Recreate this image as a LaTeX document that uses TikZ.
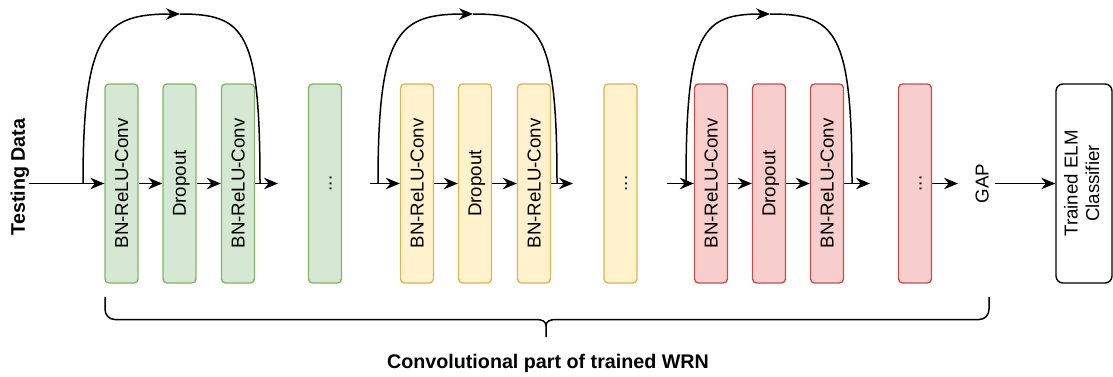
\documentclass[tikz,border=0pt]{standalone}
\usepackage{fontspec}
\setmainfont{Liberation Sans}
\usetikzlibrary{arrows.meta}

\definecolor{gfill}{HTML}{D5E8D4}\definecolor{gline}{HTML}{82B366}
\definecolor{yfill}{HTML}{FFF2CC}\definecolor{yline}{HTML}{D6B656}
\definecolor{rfill}{HTML}{F8CECC}\definecolor{rline}{HTML}{B85450}

% vertical label, centred on a full line box
\newcommand\vlab[1]{\rotatebox{90}{\rule[-0.2em]{0pt}{1.1em}#1}}

\begin{document}
\begin{tikzpicture}[x=1pt,y=-1pt,
  every node/.style={font=\fontsize{18.7}{21.7}\selectfont, inner sep=0pt},
  boldtext/.style={font=\bfseries\fontsize{19.7}{23}\selectfont},
  layer/.style={line width=1.3pt, rounded corners=4pt,
                minimum width=33pt, minimum height=199pt},
  gbox/.style={layer, draw=gline, fill=gfill},
  ybox/.style={layer, draw=yline, fill=yfill},
  rbox/.style={layer, draw=rline, fill=rfill},
  elmbox/.style={draw=black, fill=white, line width=1.4pt, rounded corners=7pt,
                 minimum width=56pt, minimum height=199pt},
  conn/.style={line width=1.5pt, -{Stealth[length=14pt,width=11.5pt,inset=4.5pt]}},
  plain/.style={line width=1.5pt}]

\path[use as bounding box] (0,0) rectangle (1113,376);

% input label
\node[boldtext] (td) at (18,177) {\vlab{Testing Data}};

% first (green) block
\node[gbox] (g1) at (121.5,183.5) {\vlab{BN-ReLU-Conv}};
\node[gbox] (g2) at (179.5,183.5) {\vlab{Dropout}};
\node[gbox] (g3) at (238,183.5)   {\vlab{BN-ReLU-Conv}};
\node[gbox] (g4) at (325,183.5)   {\vlab{...}};

% second (yellow) block
\node[ybox] (y1) at (417,183.5)   {\vlab{BN-ReLU-Conv}};
\node[ybox] (y2) at (475,183.5)   {\vlab{Dropout}};
\node[ybox] (y3) at (534,183.5)   {\vlab{BN-ReLU-Conv}};
\node[ybox] (y4) at (620.5,183.5) {\vlab{...}};

% third (red) block
\node[rbox] (r1) at (711,183.5)   {\vlab{BN-ReLU-Conv}};
\node[rbox] (r2) at (769,183.5)   {\vlab{Dropout}};
\node[rbox] (r3) at (827,183.5)   {\vlab{BN-ReLU-Conv}};
\node[rbox] (r4) at (915,183.5)   {\vlab{...}};

% pooling and classifier
\node (gap) at (982,183.5) {\vlab{GAP}};
\node[elmbox] (elm) at (1084,183.5)
  {\rotatebox{90}{\begin{tabular}{@{}c@{}}Trained ELM\\Classifier\end{tabular}}};

% free ends and skip-connection points
\coordinate (gs) at (83,183.5);  \coordinate (gt) at (180,14);  \coordinate (ge) at (260,183.5);
\coordinate (go) at (278,183.5);
\coordinate (yi) at (370,183.5);
\coordinate (ys) at (378,183.5); \coordinate (yt) at (473,14);  \coordinate (ye) at (557,183.5);
\coordinate (yo) at (573,183.5);
\coordinate (ri) at (667,183.5);
\coordinate (rs) at (686,183.5); \coordinate (rt) at (770,14);  \coordinate (re) at (852,183.5);
\coordinate (ro) at (870,183.5);

% main data path
\draw[conn] (td.east |- g1.west) -- (g1.west);
\draw[conn] (g1) -- (g2);
\draw[conn] (g2) -- (g3);
\draw[conn] (g3.east) -- (go);
\draw[conn] (yi) -- (y1.west);
\draw[conn] (y1) -- (y2);
\draw[conn] (y2) -- (y3);
\draw[conn] (y3.east) -- (yo);
\draw[conn] (ri) -- (r1.west);
\draw[conn] (r1) -- (r2);
\draw[conn] (r2) -- (r3);
\draw[conn] (r3.east) -- (ro);
\draw[conn, shorten >=13.5pt] (r4.east) -- (gap.west);
\draw[conn, shorten <=2.5pt] (gap.east) -- (elm.west);

% residual (skip) connections
\draw[conn]  (gs) .. controls +(0,-152) and +(-75,0) .. (gt);
\draw[plain] (gt) .. controls +(65,0) and +(0,-152) .. (ge);
\draw[conn]  (ys) .. controls +(0,-152) and +(-75,0) .. (yt);
\draw[plain] (yt) .. controls +(68,0) and +(0,-152) .. (ye);
\draw[conn]  (rs) .. controls +(0,-152) and +(-68,0) .. (rt);
\draw[plain] (rt) .. controls +(66,0) and +(0,-152) .. (re);

% brace under the convolutional part
\draw[plain] (105,297) -- (105,309) .. controls (105,315) and (109,319.5) .. (115,319.5)
  -- (536,319.5) .. controls (542,319.5) and (546,321) .. (546,326) -- (546,337);
\draw[plain] (989,297) -- (989,309) .. controls (989,315) and (985,319.5) .. (979,319.5)
  -- (556,319.5) .. controls (550,319.5) and (546,321) .. (546,326);
\node[boldtext] (cap) at (548,363) {Convolutional part of trained WRN};

\end{tikzpicture}
\end{document}
